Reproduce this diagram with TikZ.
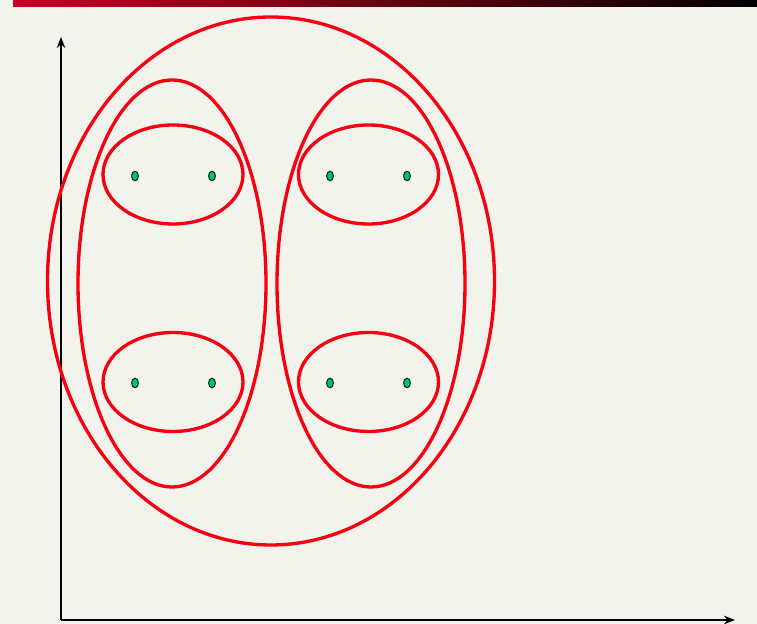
\documentclass[tikz,border=0pt]{standalone}
\usepackage{tikz}
\usetikzlibrary{arrows.meta}
\definecolor{slidebg}{RGB}{242,243,236}
\definecolor{ringred}{RGB}{246,0,18}
\definecolor{dotgreen}{RGB}{0,192,122}
\definecolor{bartop}{RGB}{204,0,32}

\begin{document}
\begin{tikzpicture}[x=0.02cm,y=0.02cm,>={Stealth[length=2.2mm,width=1.7mm]},
  ring/.style={draw=ringred,line width=1.9pt},
  pt/.style={fill=dotgreen,draw=black!80!green,line width=0.6pt}]
  % ---- page and title bar
  \fill[slidebg] (0,0) rectangle (757,624);
  \useasboundingbox (0,0) rectangle (757,624);
  \shade[left color=bartop,right color=black] (13,617) rectangle (757,624);
  % ---- axes
  \coordinate (O) at (61,4);
  \coordinate (ytip) at (61,587);
  \coordinate (xtip) at (735,4);
  \draw[->,line width=1.4pt] (O) -- (ytip);
  \draw[->,line width=1.4pt] (O) -- (xtip);
  % ---- nested clusters
  \draw[ring] (271,343) ellipse (223.5 and 264);
  \draw[ring] (172,340.5) ellipse (94 and 203.5);
  \draw[ring] (371,340.5) ellipse (94 and 203.5);
  \foreach \cx in {173,368.5}
    \foreach \cy in {449.5,242}
      \draw[ring] (\cx,\cy) ellipse (70 and 49.5);
  % ---- data points
  \foreach \px in {135,212,330,407}
    \foreach \py in {448,241}
      \draw[pt] (\px,\py) ellipse (3.4 and 4.8);
\end{tikzpicture}
\end{document}
